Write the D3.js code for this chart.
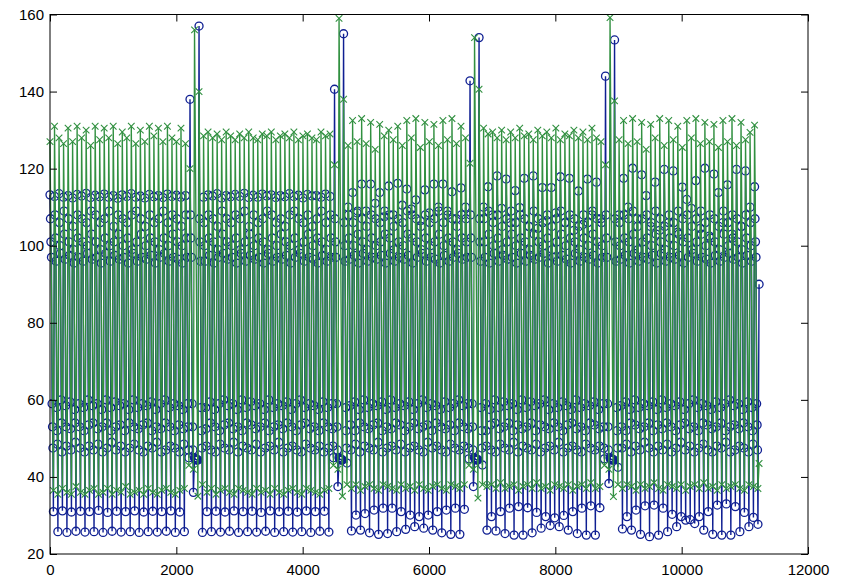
<!DOCTYPE html>
<html>
<head>
<meta charset="utf-8">
<script src="https://cdn.jsdelivr.net/npm/d3@7"></script>
<style>
  html, body { margin: 0; padding: 0; background: #ffffff; }
  svg { display: block; }
  text { font-family: "Liberation Sans", Arial, Helvetica, sans-serif; font-size: 15px; fill: #000; }
</style>
</head>
<body>
<svg id="chart" width="842" height="579"></svg>
<script>
// ---- data: one entry per beat (beat spacing in x units) ----
const beatLength = 71.5;
const xTicks = [0, 2000, 4000, 6000, 8000, 10000, 12000];
const yTicks = [20, 40, 60, 80, 100, 120, 140, 160];

// blue series (circles): peak, three upper-plateau samples, three lower-plateau samples, trough
const blueTop = [
  113.2,112.8,113.5,112.6,113.0,112.4,113.3,112.9,113.6,112.5,113.1,112.7,113.4,112.6,113.0,112.3,113.2,112.8,113.5,112.6,112.9,112.4,113.3,112.7,113.0,112.5,113.4,112.8,113.1,112.6,113.0,
  138,45,157,
  112.6,113.2,112.9,113.5,112.4,113.0,112.7,113.3,112.8,113.6,112.5,113.1,112.6,113.4,112.9,113.2,112.5,113.0,112.7,113.5,112.8,113.1,112.4,113.3,112.9,113.0,112.6,113.4,112.8,
  140.6,45,155,
  110,113.8,108.5,116,109,116,111,113.8,107.5,115.5,108,116.2,110.5,114.7,109.5,111.9,106.5,114.5,108.5,116,110,116,109,114,107,115,110,
  142.8,45,154,
  110,115.3,108,118.1,109.7,117.3,106,114.3,109.9,117.5,105,118.1,104.5,115.1,106.5,115.1,108.5,117.9,106,117.5,104,114.2,105.5,117.3,108,116.5,107,
  144,45,153.4,
  108,117.5,110,120.1,107,118.4,113,105,116.5,104,119.8,106,119.4,103.5,115.2,112,109.7,116.9,104.5,120.1,102.5,118.6,113.8,106,115.8,103,119.8,105,119.4,110,115.3,
  90
];
const blueH1 = [
  107,108,106,109,107,105,108,107,106,109,108,106,107,109,105,108,107,106,108,109,107,105,108,106,107,109,106,108,107,105,108,
  108,44.8,107,
  106,108,107,105,109,107,106,108,107,109,105,108,106,107,109,108,106,107,105,108,109,107,106,108,105,107,109,106,108,
  107,44.8,106,
  108,106,109,107,105,108,107,106,109,108,105,107,106,109,108,107,105,108,106,107,109,106,108,107,105,108,107,
  108,44.8,107,
  107,109,106,108,105,107,109,106,108,107,105,109,107,106,108,105,107,109,106,108,107,105,108,106,109,107,106,
  108,44.8,107,
  106,108,107,109,105,107,108,106,109,107,105,108,106,109,107,108,105,107,109,106,108,107,105,109,106,108,107,105,108,106,107
];
const blueH2 = [
  101,102,100,103,101,99,102,101,100,103,101,99,102,100,101,103,100,102,99,101,103,100,102,101,99,102,100,103,101,100,102,
  102,44.6,101,
  100,102,101,99,103,101,100,102,99,101,103,100,102,101,99,102,100,103,101,100,102,99,101,103,100,102,101,99,102,
  101,44.6,100,
  102,100,103,101,99,102,100,101,103,102,99,101,100,103,102,101,99,102,100,101,103,100,102,101,99,102,101,
  102,44.6,101,
  101,103,100,102,99,101,103,100,102,101,99,103,101,100,102,99,101,103,100,102,101,99,102,100,103,101,100,
  102,44.6,101,
  100,102,101,103,99,101,102,100,103,101,99,102,100,103,101,102,99,101,103,100,102,101,99,103,100,102,101,99,102,100,101
];
const blueH3 = [
  97,96,98,96.5,97.5,95.5,97,96,98,96.5,97,95.5,98,96,97.5,96.5,97,95.5,98,96,97,96.5,97.5,95.5,97,98,96,97,96.5,95.5,97,
  97,44.5,96,
  96,97.5,95.5,97,98,96.5,97,95.5,98,96,97.5,96.5,97,95.5,98,96,97,96.5,97.5,95.5,97,98,96,97,96.5,95.5,97.5,96,97,
  97,44.5,96,
  96.5,97.5,95.5,98,96,97,96.5,97.5,95.5,98,96,97,96.5,97.5,95.5,97,98,96,97,96.5,95.5,97.5,96,97,98,96.5,97,
  97,44.5,96,
  97,95.5,98,96,97.5,96.5,97,95.5,98,96,97.5,96.5,97,98,95.5,97,96,97.5,96.5,95.5,98,96,97,96.5,97.5,95.5,97,
  97,44.5,96,
  96.5,97.5,95.5,98,96,97,96.5,97.5,95.5,98,96,97,96.5,97.5,95.5,97,98,96,97,96.5,95.5,97.5,96,97,98,96.5,97,95.5,97.5,96,97
];
const blueL1 = [
  59,58,60,58.5,59.5,57.5,59,58,60,58.5,59,57.5,60,58,59.5,58.5,59,57.5,60,58,59,58.5,59.5,57.5,59,60,58,59,58.5,57.5,59,
  59,44.5,58,
  58,59.5,57.5,59,60,58.5,59,57.5,60,58,59.5,58.5,59,57.5,60,58,59,58.5,59.5,57.5,59,60,58,59,58.5,57.5,59.5,58,59,
  59,44.5,58,
  58.5,59.5,57.5,60,58,59,58.5,59.5,57.5,60,58,59,58.5,59.5,57.5,59,60,58,59,58.5,57.5,59.5,58,59,60,58.5,59,
  59,44.5,58,
  59,57.5,60,58,59.5,58.5,59,57.5,60,58,59.5,58.5,59,60,57.5,59,58,59.5,58.5,57.5,60,58,59,58.5,59.5,57.5,59,
  59,44.5,58,
  58.5,59.5,57.5,60,58,59,58.5,59.5,57.5,60,58,59,58.5,59.5,57.5,59,60,58,59,58.5,57.5,59.5,58,59,60,58.5,59,57.5,59.5,58,59
];
const blueL2 = [
  53,52,54,53,52.5,54,53,52,53.5,54,52.5,53,54,52,53,53.5,52,54,53,52.5,53.5,54,52,53,52.5,54,53,52,53.5,52.5,53,
  53,44.4,52,
  52.5,54,53,52,53.5,54,52.5,53,52,54,53.5,52.5,53,54,52,53,53.5,52.5,54,53,52,53.5,54,52.5,53,52,54,53,52.5,
  53,44.4,52,
  53.5,52,54,53,52.5,53.5,54,52,53,52.5,54,53.5,52,53,54,52.5,53,53.5,52,54,53,52.5,53.5,52,54,53,52.5,
  53,44.4,52,
  52,53.5,54,52.5,53,54,52,53.5,52.5,53,54,52,53.5,53,52.5,54,53,52,53.5,54,52.5,53,52,54,53.5,52.5,53,
  53,44.4,52,
  53,52,54,53.5,52.5,53,54,52,53.5,52.5,54,53,52,53.5,54,52.5,53,52,54,53.5,52.5,53,54,52,53,53.5,52.5,54,53,52,53.5
];
const blueL3 = [
  47.5,48.5,46.5,48,47,49,47.5,46.5,48,47,48.5,46.5,47.5,49,47,48,46.5,47.5,48.5,47,46.5,48,47.5,49,46.5,47,48,47.5,46.5,48.5,47,
  47,44.4,47.5,
  48,47,46.5,48.5,47.5,47,49,46.5,48,47.5,47,48.5,46.5,47.5,48,47,49,46.5,47.5,48,47,46.5,48.5,47.5,47,48,46.5,47.5,48,
  47,44.4,47.5,
  47,48.5,46.5,48,47.5,47,49,46.5,47.5,48,47,48.5,46.5,47.5,48,47,46.5,49,47.5,48,47,46.5,48.5,47.5,47,48,47.5,
  47,44.4,47.5,
  48,47,46.5,48.5,47.5,47,49,46.5,48,47.5,47,48.5,46.5,47.5,48,47,49,46.5,47.5,48,47,46.5,48.5,47.5,47,48,47.5,
  47,44.4,47.5,
  47.5,48.5,46.5,48,47,49,47.5,46.5,48,47,48.5,46.5,47.5,49,47,48,46.5,47.5,48.5,47,46.5,48,47.5,49,46.5,47,48,47.5,46.5,48.5,47
];
const blueBot = [
  31.0,25.8,31.2,25.6,30.9,25.9,31.1,25.7,31.0,25.8,31.3,25.6,30.8,25.9,31.1,25.7,31.0,25.8,31.2,25.6,30.9,25.8,31.1,25.7,31.0,25.9,31.2,25.6,30.9,25.8,45,
  36,44.4,25.6,
  31.0,25.8,31.1,25.7,30.9,25.9,31.2,25.6,31.0,25.8,31.1,25.7,30.8,25.9,31.2,25.6,31.0,25.8,31.1,25.7,30.9,25.8,31.2,25.6,31.0,25.9,31.1,25.7,45,
  37.5,44.4,43.6,
  26.0,30.1,26.2,30.5,25.5,31.4,25.1,31.9,25.3,31.9,25.8,31.0,26.4,30.1,27.1,29.7,26.7,30.1,26.2,31.0,25.5,31.4,25.1,31.9,25.1,31.6,44.7,
  37.5,44.5,43.1,
  26.2,29.7,26.0,31.0,25.3,31.9,24.9,32.3,24.9,32.0,25.5,30.8,26.7,29.7,27.4,29.4,27.1,30.0,26.2,31.0,25.3,31.9,24.9,32.5,24.9,32.0,44.7,
  38.3,44.5,42.5,
  26.5,29.7,26.2,31.4,25.1,32.5,24.5,32.7,24.9,31.9,25.8,30.3,27.1,29.7,28.8,28.9,27.9,29.7,26.2,31.0,25.1,32.7,24.9,33.0,24.9,32.3,25.8,30.8,27.1,29.5,27.7
];

// green series (crosses): peak and trough per beat
const greenTop = [
  127,131,128,126.5,130.5,127,131,128,130,126,131,127.5,130.5,128,131,126.5,129.5,128,131,126.5,130,127,131,128.5,130.5,127,131,128,127,130.5,126.5,
  120,156,140,
  128.5,129.5,128,129,127.5,129.5,128.5,127.5,129,128,129.5,128,127.5,129,128.5,129.5,127.5,128.5,129,128,129.5,127.5,128.5,129,128,127.5,129.5,128.5,129,
  121,159,138,
  126,132.5,127,133,126.5,132,125,131.5,128.5,130,127.5,131,126,132.5,128,133,125.5,132,127,131.5,126,132.5,127.5,133,126.5,131,128,
  121.4,154,140.6,
  130.5,129,129.5,128,130,127.5,129.5,128,130.5,128.5,129,127.5,130,128.5,129.5,128,130.5,127.5,129,128.5,130,128,129.5,127.5,130.5,128,127,
  121,159.2,137.6,
  127.5,132.5,126.5,133,127,132,125,131.5,128,133,126,132.5,127.5,131,125.5,132.5,128,133,126.5,132,127,131.5,125.5,132.5,127,133,126,132,127.5,129.4,131.3,
  43.5
];
const greenBot = [
  36.5,35.5,37,36,35.5,37.5,36,35.5,36.5,37,35.5,36,37,35.5,36.5,36,37.5,35.5,36,36.5,35.5,37,36,35.5,36.5,37,36,35.5,36.5,37,43,
  42,35,38,
  36,37,35.5,36.5,37,36,35.5,37,36.5,36,35.5,37,36,36.5,35.5,37,36,35.5,36.5,37,36,35.5,37,36.5,36,35.5,36.5,37,43,
  42,35,38,
  37,38,36.5,37.5,38,37,36.5,38,37.5,37,36.5,38,37,37.5,36.5,38,37,36.5,37.5,38,37,36.5,38,37.5,37,38,43,
  42,34.5,38,
  37.5,38,37,38.5,37,37.5,38,36.5,37.5,38,37,38.5,37,37.5,36.5,38,37.5,37,38,36.5,37.5,38,37,38.5,37,37.5,43,
  42,34.9,38,
  37,38,37.5,36.5,38,37,37.5,38.5,37,36.5,38,37.5,37,38,36.5,37.5,38,37,38.5,37,37.5,36.5,38,37,37.5,38,37,36.5,38,37.5,37
];

// ---- build point lists from the beat arrays ----
const blueParts = [[blueH1, 0.10], [blueH2, 0.20], [blueH3, 0.32], [blueL1, 0.46], [blueL2, 0.56], [blueL3, 0.65], [blueBot, 0.75]];
const bluePts = [];
blueTop.forEach((v, b) => {
  const x0 = b * beatLength;
  bluePts.push({x: x0, y: v});
  if (b < blueBot.length) {
    blueParts.forEach(([arr, f]) => bluePts.push({x: x0 + beatLength * f, y: arr[b]}));
  }
});
const greenPts = [];
greenTop.forEach((v, b) => {
  const x0 = b * beatLength;
  greenPts.push({x: x0, y: v});
  if (b < greenBot.length) greenPts.push({x: x0 + beatLength * 0.75, y: greenBot[b]});
});
const bluePlot = bluePts.filter(d => Number.isFinite(d.y));
const greenPlot = greenPts.filter(d => Number.isFinite(d.y));

// ---- layout ----
const svg = d3.select("#chart");
const mLeft = 50, mRight = 808, mTop = 14.5, mBottom = 554;
const x = d3.scaleLinear().domain([0, 12000]).range([mLeft, mRight]);
const y = d3.scaleLinear().domain([20, 160]).range([mBottom, mTop]);

const blueColor = "#0f1f92";
const greenColor = "#319040";

const plot = svg.append("g");
const line = d3.line().x(d => x(d.x)).y(d => y(d.y));

// blue series: line then circle markers
plot.append("path").datum(bluePlot).attr("d", line)
  .attr("fill", "none").attr("stroke", blueColor).attr("stroke-width", 1.4);
plot.append("g").selectAll("circle").data(bluePlot).join("circle")
  .attr("cx", d => x(d.x)).attr("cy", d => y(d.y)).attr("r", 4)
  .attr("fill", "none").attr("stroke", blueColor).attr("stroke-width", 1.3);

// green series: line then cross markers
plot.append("path").datum(greenPlot).attr("d", line)
  .attr("fill", "none").attr("stroke", greenColor).attr("stroke-width", 1.35);
plot.append("g").selectAll("path").data(greenPlot).join("path")
  .attr("transform", d => `translate(${x(d.x)},${y(d.y)})`)
  .attr("d", "M-3.3,-3.3L3.3,3.3M-3.3,3.3L3.3,-3.3")
  .attr("fill", "none").attr("stroke", greenColor).attr("stroke-width", 1.1);

// ---- axes: MATLAB-style box with inward ticks on all sides ----
const axBottom = d3.axisBottom(x).tickValues(xTicks).tickSize(-7).tickPadding(10).tickFormat(d3.format("d"));
const axTop = d3.axisTop(x).tickValues(xTicks).tickSize(-7).tickFormat("");
const axLeft = d3.axisLeft(y).tickValues(yTicks).tickSize(-7).tickPadding(6).tickFormat(d3.format("d"));
const axRight = d3.axisRight(y).tickValues(yTicks).tickSize(-7).tickFormat("");

function styleAxis(g) {
  g.select(".domain").remove();
  g.selectAll(".tick line").attr("stroke", "#000").attr("stroke-width", 1);
  g.selectAll(".tick text").attr("font-size", 15).attr("fill", "#000")
    .attr("font-family", '"Liberation Sans", Arial, sans-serif');
}
svg.append("g").attr("transform", `translate(0,${mBottom})`).call(axBottom).call(styleAxis);
svg.append("g").attr("transform", `translate(0,${mTop})`).call(axTop).call(styleAxis);
svg.append("g").attr("transform", `translate(${mLeft},0)`).call(axLeft).call(styleAxis);
svg.append("g").attr("transform", `translate(${mRight},0)`).call(axRight).call(styleAxis);

svg.append("rect").attr("x", mLeft).attr("y", mTop).attr("width", mRight - mLeft).attr("height", mBottom - mTop)
  .attr("fill", "none").attr("stroke", "#000").attr("stroke-width", 1);
</script>
</body>
</html>
